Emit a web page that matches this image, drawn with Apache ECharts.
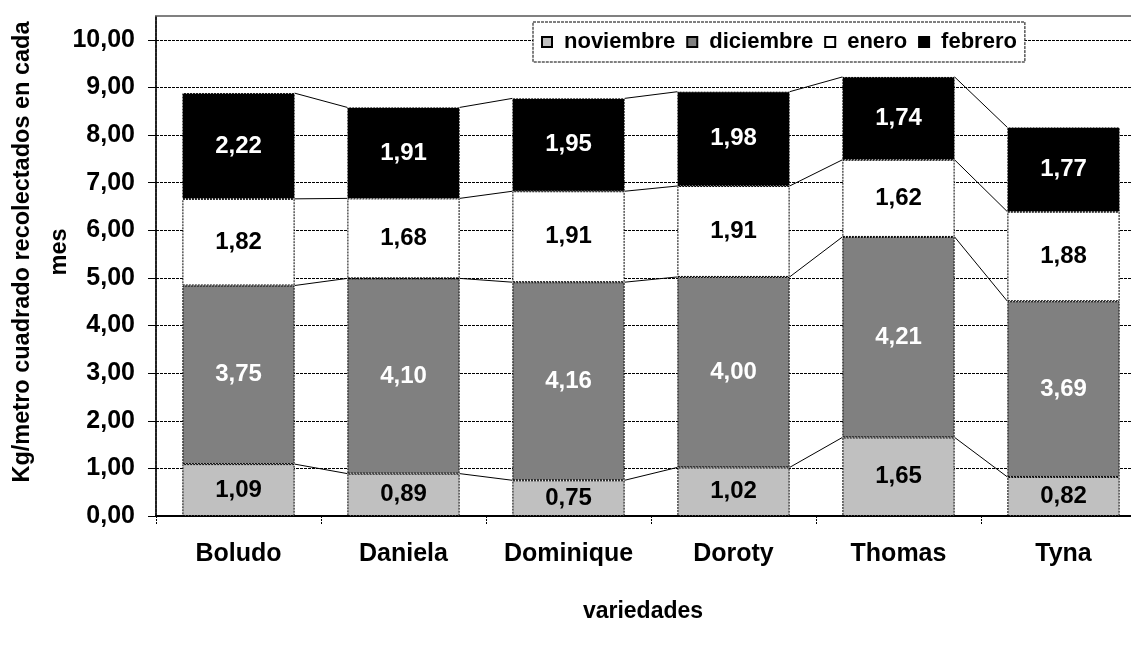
<!DOCTYPE html>
<html>
<head>
<meta charset="utf-8">
<script src="https://cdn.jsdelivr.net/npm/echarts@6/dist/echarts.min.js"></script>
<style>
    body { margin: 0; background: #ffffff; }
    #chart { width: 1131px; height: 648px; }
</style>
</head>
<body>
<div id="chart"></div>
<script>
    // datos
    var variedades = ['Boludo', 'Daniela', 'Dominique', 'Doroty', 'Thomas', 'Tyna'];
    var noviembre = [1.09, 0.89, 0.75, 1.02, 1.65, 0.82];
    var diciembre = [3.75, 4.10, 4.16, 4.00, 4.21, 3.69];
    var enero = [1.82, 1.68, 1.91, 1.91, 1.62, 1.88];
    var febrero = [2.22, 1.91, 1.95, 1.98, 1.74, 1.77];
    var meses = ['noviembre', 'diciembre', 'enero', 'febrero'];
    var colores = ['#c0c0c0', '#808080', '#ffffff', '#000000'];
    var coloresTexto = ['#000000', '#ffffff', '#000000', '#ffffff'];

    var FONT = 'Liberation Sans, Arial, sans-serif';
    var barRatio = 0.68;

    function coma(v) {
        return v.toFixed(2).replace('.', ',');
    }

    // lineas de serie entre columnas (como Excel)
    var valores = [noviembre, diciembre, enero, febrero];
    var acumulado = [];
    var suma = variedades.map(function () { return 0; });
    for (var k = 0; k < valores.length; k++) {
        suma = suma.map(function (s, i) { return s + valores[k][i]; });
        acumulado.push(suma.slice());
    }
    var conectores = [];
    for (var k = 0; k < acumulado.length; k++) {
        for (var i = 0; i < variedades.length - 1; i++) {
            conectores.push([i, acumulado[k][i], acumulado[k][i + 1]]);
        }
    }

    function dibujaConector(params, api) {
        var i = api.value(0);
        var p1 = api.coord([i, api.value(1)]);
        var p2 = api.coord([i + 1, api.value(2)]);
        var half = api.size([1, 0])[0] * barRatio / 2;
        return {
            type: 'line',
            shape: { x1: p1[0] + half, y1: p1[1], x2: p2[0] - half, y2: p2[1] },
            style: { stroke: '#000000', lineWidth: 1 }
        };
    }

    var series = meses.map(function (m, k) {
        return {
            name: m,
            type: 'bar',
            stack: 'total',
            barCategoryGap: '32%',
            data: valores[k],
            itemStyle: {
                color: colores[k],
                borderColor: '#000000',
                borderWidth: 1,
                borderType: [2, 1]
            },
            label: {
                show: true,
                position: 'inside',
                color: coloresTexto[k],
                fontFamily: FONT,
                fontWeight: 'bold',
                fontSize: 24,
                formatter: function (p) { return coma(p.value); }
            }
        };
    });
    series.push({
        type: 'custom',
        renderItem: dibujaConector,
        encode: { x: 0, y: [1, 2] },
        data: conectores,
        silent: true,
        z: 3
    });

    var chart = echarts.init(document.getElementById('chart'));
    chart.setOption({
        animation: false,
        grid: {
            left: 156,
            right: -15,
            top: 16,
            bottom: 132,
            outerBoundsMode: 'none',
            containLabel: false,
            show: true,
            borderColor: '#808080',
            borderWidth: 2
        },
        legend: {
            data: meses,
            left: 533,
            top: 22,
            padding: [9, 8, 9, 8],
            itemWidth: 10,
            itemHeight: 10,
            itemGap: 11,
            icon: 'rect',
            backgroundColor: '#ffffff',
            borderColor: '#000000',
            borderWidth: 1,
            borderType: [3, 1],
            textStyle: {
                fontFamily: FONT,
                fontWeight: 'bold',
                fontSize: 22,
                color: '#000000',
                padding: [0, 0, 0, 7]
            }
        },
        xAxis: {
            type: 'category',
            data: variedades,
            name: 'variedades',
            nameLocation: 'middle',
            nameGap: 84,
            nameMoveOverlap: false,
            nameTextStyle: { fontFamily: FONT, fontWeight: 'bold', fontSize: 23, color: '#000000', padding: [0, 16, 0, 0] },
            axisLine: { lineStyle: { color: '#000000', width: 2 } },
            axisTick: { show: true, length: 8, lineStyle: { color: '#000000', type: [2, 1] } },
            axisLabel: { interval: 0, margin: 26, fontFamily: FONT, fontWeight: 'bold', fontSize: 25, color: '#000000' }
        },
        yAxis: {
            type: 'value',
            min: 0,
            max: 10.5,
            interval: 1,
            name: 'Kg/metro cuadrado recolectados en cada\nmes',
            nameLocation: 'middle',
            nameRotate: 90,
            nameGap: 78,
            nameMoveOverlap: false,
            nameTextStyle: { fontFamily: FONT, fontWeight: 'bold', fontSize: 23.5, color: '#000000', lineHeight: 37, align: 'center', padding: [0, 0, 0, 28] },
            axisLine: { show: true, lineStyle: { color: '#000000', width: 1.5, type: [3, 1] } },
            axisTick: { show: true, length: 8, lineStyle: { color: '#000000' } },
            axisLabel: {
                margin: 21,
                showMaxLabel: false,
                fontFamily: FONT,
                fontWeight: 'bold',
                fontSize: 25,
                color: '#000000',
                formatter: function (v) { return v > 10 ? '' : coma(v); }
            },
            splitLine: { show: true, showMaxLine: false, lineStyle: { color: '#000000', width: 1, type: [3, 1] } }
        },
        series: series
    });
</script>
</body>
</html>
